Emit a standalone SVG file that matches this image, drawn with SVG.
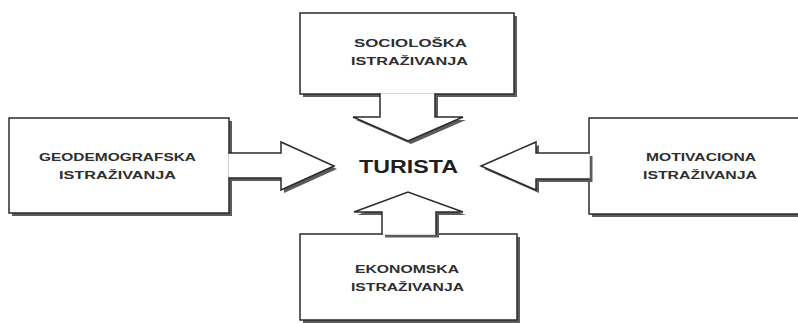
<svg xmlns="http://www.w3.org/2000/svg" width="798" height="323" viewBox="0 0 798 323">
  <defs>
    <style>
      .box { fill: #ffffff; stroke: #2b2b2b; stroke-width: 1.5; }
      .arrow { fill: #ffffff; stroke: #2b2b2b; stroke-width: 1.5; stroke-linejoin: miter; }
      .shadow { fill: #5c5c5c; stroke: none; filter: url(#soft); }
      .lbl { font-family: "Liberation Sans", Arial, sans-serif; font-weight: bold; font-size: 11.5px; fill: #2e2e2e; }
      .main { font-family: "Liberation Sans", Arial, sans-serif; font-weight: bold; font-size: 17.5px; fill: #1f1f1f; }
    </style>
    <filter id="soft" x="-5%" y="-5%" width="110%" height="110%">
      <feGaussianBlur stdDeviation="0.6"/>
    </filter>
  </defs>
  <rect x="0" y="0" width="798" height="323" fill="#ffffff"/>

  <g id="node-sociologska">
    <rect class="shadow" x="303" y="16" width="214" height="81"/>
    <rect class="box" x="300" y="13" width="214" height="81"/>
    <text class="lbl" x="354" y="47" textLength="113" lengthAdjust="spacingAndGlyphs">SOCIOLOŠKA</text>
    <text class="lbl" x="351" y="65" textLength="117" lengthAdjust="spacingAndGlyphs">ISTRAŽIVANJA</text>
  </g>

  <g id="node-geodemografska">
    <rect class="shadow" x="12" y="121" width="220" height="95"/>
    <rect class="box" x="9" y="118" width="220" height="95"/>
    <text class="lbl" x="39" y="160.7" textLength="157" lengthAdjust="spacingAndGlyphs">GEODEMOGRAFSKA</text>
    <text class="lbl" x="59" y="179" textLength="117" lengthAdjust="spacingAndGlyphs">ISTRAŽIVANJA</text>
  </g>

  <g id="node-motivaciona">
    <rect class="shadow" x="592" y="121" width="220" height="96"/>
    <rect class="box" x="589" y="118" width="220" height="96"/>
    <text class="lbl" x="646" y="160.7" textLength="110" lengthAdjust="spacingAndGlyphs">MOTIVACIONA</text>
    <text class="lbl" x="643" y="179" textLength="114" lengthAdjust="spacingAndGlyphs">ISTRAŽIVANJA</text>
  </g>

  <g id="node-ekonomska">
    <rect class="shadow" x="303" y="237" width="217" height="86"/>
    <rect class="box" x="300" y="234" width="217" height="86"/>
    <text class="lbl" x="355" y="273" textLength="104" lengthAdjust="spacingAndGlyphs">EKONOMSKA</text>
    <text class="lbl" x="351" y="291" textLength="113" lengthAdjust="spacingAndGlyphs">ISTRAŽIVANJA</text>
  </g>

  <g id="node-turista">
    <text class="main" x="359" y="172.7" textLength="99" lengthAdjust="spacingAndGlyphs">TURISTA</text>
  </g>

  <g id="connectors">
    <g id="arrow-top">
      <path class="shadow" d="M383,96.5 L383,120 L356,120 L411,144 L466,120 L438,120 L438,96.5 Z"/>
      <path class="arrow" d="M380,93.3 L380,117 L353,117 L408,141 L463,117 L435,117 L435,93.3"/>
    </g>
    <g id="arrow-left">
      <path class="shadow" d="M231.5,156 L284,156 L284,145 L337,169 L284,193 L284,181 L231.5,181 Z"/>
      <path class="arrow" d="M228.3,153 L281,153 L281,142 L334,166 L281,190 L281,178 L228.3,178"/>
    </g>
    <g id="arrow-right">
      <path class="shadow" d="M592.5,156 L539,156 L539,145 L484,169 L539,193 L539,182 L592.5,182 Z"/>
      <path class="arrow" d="M589.7,153 L536,153 L536,142 L481,166 L536,190 L536,179 L589.7,179"/>
    </g>
    <g id="arrow-bottom">
      <path class="shadow" d="M385,237.5 L385,215 L357,215 L411,195 L466,215 L439,215 L439,237.5 Z"/>
      <path class="arrow" d="M382,234.7 L382,212 L354,212 L408,192 L463,212 L436,212 L436,234.7"/>
    </g>
  </g>
</svg>
